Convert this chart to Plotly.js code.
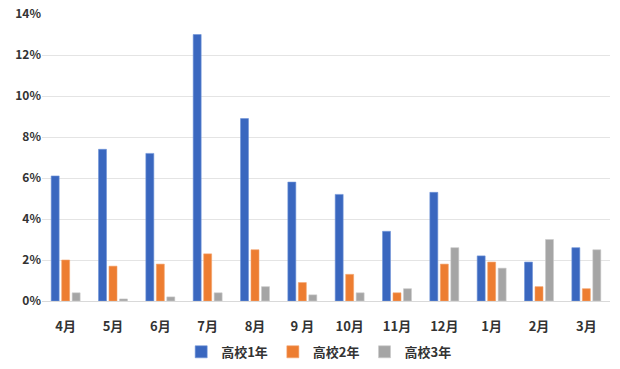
<!DOCTYPE html>
<html><head><meta charset="utf-8">
<script src="https://cdn.plot.ly/plotly-3.0.1.min.js"></script>
<style>html,body{margin:0;padding:0;background:#fff}</style>
</head><body><div id="chart" style="width:620px;height:369px"></div>
<script>
const months = ["4月","5月","6月","7月","8月","9 月","10月","11月","12月","1月","2月","3月"];
const grade1 = [6.1,7.4,7.2,13.0,8.9,5.8,5.2,3.4,5.3,2.2,1.9,2.6];
const grade2 = [2.0,1.7,1.8,2.3,2.5,0.9,1.3,0.4,1.8,1.9,0.7,0.6];
const grade3 = [0.4,0.1,0.2,0.4,0.7,0.3,0.4,0.6,2.6,1.6,3.0,2.5];
const names = ["高校1年","高校2年","高校3年"];
const colors = ["#3a67bf","#ed7d31","#a5a5a5"];
const lines = ["#6f93d8","#f4a26c","#c9c9c9"];
const series = [grade1, grade2, grade3];
const traces = series.map((v,i)=>({
  type:"bar", x:months, y:v.map(d=>d/100), name:names[i],
  marker:{color:colors[i], line:{color:lines[i], width:0.6}},
  hoverinfo:"skip"
}));
const font = "'Noto Sans CJK JP','Noto Sans',sans-serif";
Plotly.newPlot("chart", traces, {
  width:620, height:369,
  margin:{l:42, r:10, t:14, b:68, autoexpand:false},
  paper_bgcolor:"#fff", plot_bgcolor:"#fff",
  barmode:"group", bargap:0.335, bargroupgap:0.24,
  font:{family:font, color:"#333333", size:12},
  xaxis:{tickfont:{size:13, color:"#333333", family:font, weight:"bold"}, showgrid:false,
    showline:true, linecolor:"#d9d9d9", linewidth:1, ticks:"", ticklabelstandoff:13},
  yaxis:{range:[0,0.14], dtick:0.02, tickformat:".0%", showgrid:true, gridcolor:"#e4e4e4", gridwidth:1,
    zeroline:false, showline:false, ticks:"", tickfont:{size:12, color:"#333333", family:font, weight:"bold"}},
  legend:{orientation:"h", x:0.488, xanchor:"center", y:-0.125, yanchor:"top",
    font:{size:13, color:"#333333", family:font, weight:"bold"}, itemwidth:30, traceorder:"normal"},
  showlegend:true
}, {displayModeBar:false, staticPlot:true});
</script></body></html>
